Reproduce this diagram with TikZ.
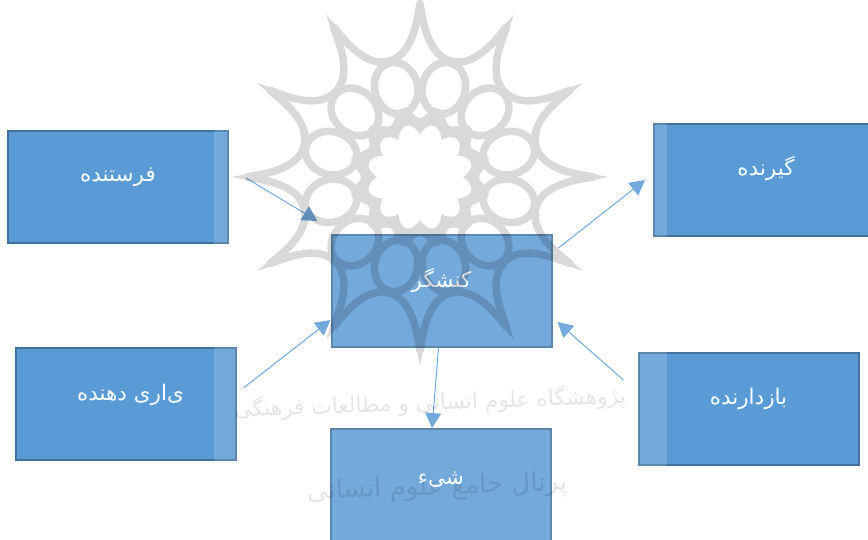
\documentclass[tikz,border=0pt]{standalone}
\usepackage{fontspec}
\newfontfamily\arabicfont[Script=Arabic]{DejaVu Sans}
\TeXXeTstate=1
\usetikzlibrary{arrows.meta, calc}
\definecolor{boxblue}{HTML}{5B9BD5}
\definecolor{boxline}{HTML}{41719C}

\begin{document}
\begin{tikzpicture}[
		x=1pt, y=-1pt,
		box/.style={draw=boxline, line width=2pt, fill=boxblue, minimum width=220pt, minimum height=112pt, inner sep=0pt},
		boxtext/.style={text=white, font=\arabicfont\fontsize{21.5}{24}\selectfont},
		arrow/.style={-{Triangle[length=15pt, width=16pt]}, draw=boxblue, line width=1pt},
		seal/.style={line width=7.5pt},
		sealtext/.style={opacity=.1, text=black, inner sep=0pt}
		]
		\useasboundingbox (0,0) rectangle (868,540);
		
		% Boxes
		\node[box, label={[boxtext, yshift=10pt]center:\beginR فرستنده\endR}] (sender) at (118,187) {};
		\node[box, label={[boxtext, yshift=12pt, xshift=2pt]center:\beginR گیرنده\endR}] (receiver) at (764,180) {};
		\node[box, label={[boxtext, yshift=11pt]center:\beginR کنشگر\endR}] (actor) at (441.5,291) {};
		\node[box, label={[boxtext, yshift=9pt, xshift=5pt]center:\beginR ی‌اری دهنده\endR}] (helper) at (125.5,404) {};
		\node[box, label={[boxtext, yshift=10pt]center:\beginR بازدارنده\endR}] (opponent) at (748.5,409) {};
		\node[box, label={[boxtext, yshift=5pt]center:\beginR شیء\endR}] (object) at (441,485) {};
		
		% Arrows
		\draw[arrow] ([shift={(17,-9)}]sender.east) -- ([shift={(-13,-13)}]actor.north west);
		\draw[arrow] ([shift={(6,14)}]actor.north east) -- ([shift={(-8,57)}]receiver.north west);
		\draw[arrow] ([shift={(7,-16)}]helper.east) -- ([shift={(0,29)}]actor.west);
		\draw[arrow] ([shift={(-14,28)}]opponent.north west) -- ([shift={(5,31)}]actor.east);
		\draw[arrow] ([xshift=-3pt]actor.south) -- ([xshift=-9pt]object.north);
		
		% Pale sheet of the watermark
		\fill[white, opacity=.15] (214,0) rectangle (667,540);
		
		% Seal
		\begin{scope}[transparency group, opacity=.15, shift={(420,177)}]
			\foreach \a in {15,45,...,345} {
				\draw[seal, shift={(\a:92)}, rotate=-\a] (0,0) ellipse (26 and 21.5);
				\draw[seal] (\a-15:174) .. controls (\a-13.9:154.5) and (\a-11.3:122.3) .. (\a:120) .. controls (\a+11.3:122.3) and (\a+13.9:154.5) .. (\a+15:174);
				\fill (\a-15:188) -- (\a-16.4:168) -- (\a-13.6:168) -- cycle;
			}
			\fill[even odd rule] plot[domain=0:360, samples=181, smooth] (\x:{65+6*cos(12*(\x-15))}) -- cycle
				plot[domain=0:360, samples=181] (\x:{43+10*abs(cos(6*(\x-15)))}) -- cycle;
		\end{scope}
		\node[sealtext, font=\arabicfont\fontsize{21.7}{26}\selectfont, rotate=2] (sealline) at (430,403) {\beginR پژوهشگاه علوم انسانی و مطالعات فرهنگی\endR};
		\node[sealtext, font=\arabicfont\fontsize{26}{31}\selectfont, rotate=2] (portalline) at (437,488) {\beginR پرتال جامع علوم انسانی\endR};
	\end{tikzpicture}
\end{document}
